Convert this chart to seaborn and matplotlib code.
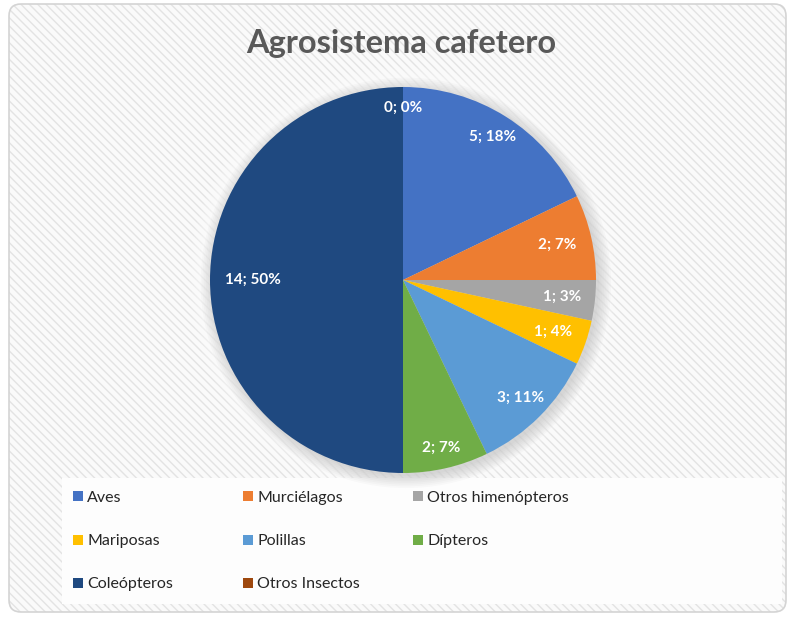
import numpy as np
import matplotlib
matplotlib.use("Agg")
import matplotlib.pyplot as plt
from matplotlib.patches import FancyBboxPatch, Circle
import seaborn as sns

sns.set_theme(style="white")
plt.rcParams["font.family"] = ["Lato", "DejaVu Sans"]
plt.rcParams["hatch.linewidth"] = 1.0

# === Datos ===
categorias = ["Aves", "Murciélagos", "Otros himenópteros", "Mariposas",
              "Polillas", "Dípteros", "Coleópteros", "Otros Insectos"]
valores = [5, 2, 0.95, 1.05, 3, 2, 14, 0]
colores = ["#4472C4", "#ED7D31", "#A5A5A5", "#FFC000",
           "#5B9BD5", "#70AD47", "#1F4980", "#9E480E"]
titulo = "Agrosistema cafetero"

total = sum(valores)
etiquetas = [f"{v:.0f}; {v / total * 100:.0f}%" for v in valores]
# distancia radial de cada etiqueta (estilo, no dato)
radio_etiqueta = [0.875, 0.82, 0.83, 0.82, 0.86, 0.89, 0.78, 0.89]

W, H = 789, 619
fig = plt.figure(figsize=(W / 100, H / 100), dpi=100)
fig.patch.set_facecolor("white")

# fondo rayado con esquinas redondeadas
fondo = FancyBboxPatch((0.09, 0.07), 7.77, 6.08,
                       boxstyle="round,pad=0,rounding_size=0.12",
                       transform=fig.dpi_scale_trans, facecolor="#fafafa",
                       edgecolor="#e3e3e3", linewidth=0, hatch="\\\\\\\\",
                       zorder=-3)
fig.add_artist(fondo)
borde = FancyBboxPatch((0.09, 0.07), 7.77, 6.08,
                       boxstyle="round,pad=0,rounding_size=0.12",
                       transform=fig.dpi_scale_trans, facecolor="none",
                       edgecolor="#d4d4d4", linewidth=1.2, zorder=-2)
fig.add_artist(borde)

# caja de la leyenda
caja = FancyBboxPatch((0.62, 0.15), 7.2, 1.26, boxstyle="square,pad=0",
                      transform=fig.dpi_scale_trans, facecolor="#fdfdfd",
                      edgecolor="none", zorder=-1)
fig.add_artist(caja)

# === Pie ===
cx, cy, r = 403, 280, 193
ax = fig.add_axes([(cx - r) / W, (H - cy - r) / H, 2 * r / W, 2 * r / H])
ax.set_facecolor("none")

# halo y sombra suave
for i in range(10):
    ax.add_patch(Circle((0, 0), 1.0 + 0.012 * i, facecolor="white",
                        edgecolor="none", alpha=0.12, zorder=0, clip_on=False))
for i in range(8):
    ax.add_patch(Circle((0.015, -0.015), 1.0 + 0.009 * i, facecolor="#808080",
                        edgecolor="none", alpha=0.04, zorder=0.5, clip_on=False))

wedges, _ = ax.pie(valores, colors=colores, startangle=90, counterclock=False,
                   radius=1.0, wedgeprops=dict(linewidth=0, zorder=2))
ax.set_xlim(-1, 1)
ax.set_ylim(-1, 1)
ax.set_aspect("equal")
ax.axis("off")

for w, txt, rr in zip(wedges, etiquetas, radio_etiqueta):
    ang = np.deg2rad((w.theta1 + w.theta2) / 2)
    ax.text(rr * np.cos(ang), rr * np.sin(ang), txt, ha="center", va="center",
            color="white", fontsize=11, fontweight="bold", zorder=3)

fig.text(401.5 / W, 1 - 43 / H, titulo, ha="center", va="center",
         fontsize=23.5, fontweight="bold", color="#595959")

# === Leyenda en tres columnas ===
columnas = [[0, 3, 6], [1, 4, 7], [2, 5]]
x_col = [73, 243, 413]
for idx, xc in zip(columnas, x_col):
    leg = fig.legend([wedges[i] for i in idx], [categorias[i] for i in idx],
                     loc="upper left", bbox_to_anchor=(xc / W, 1 - 491 / H),
                     frameon=False, fontsize=11.5, handlelength=0.6,
                     handleheight=0.6, handletextpad=0.3, labelspacing=1.83,
                     borderpad=0, borderaxespad=0)
    for t in leg.get_texts():
        t.set_color("#262626")

fig.savefig("out.png", dpi=100)
